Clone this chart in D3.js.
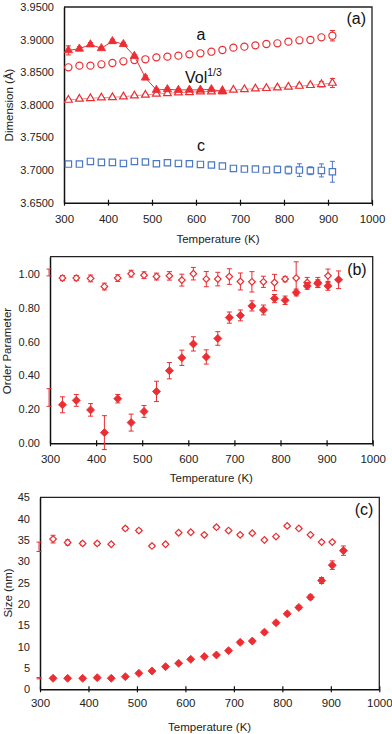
<!DOCTYPE html>
<html>
<head>
<meta charset="utf-8">
<script src="https://cdn.jsdelivr.net/npm/d3@7"></script>
<style>
  body { margin: 0; background: #fff; }
  svg { display: block; font-family: "Liberation Sans", Arial, sans-serif; }
</style>
</head>
<body>
<svg id="chart" width="392" height="734"></svg>
<script>
const xTicks = [300, 400, 500, 600, 700, 800, 900, 1000]

// (a) lattice dimensions
const tempA = [310, 335, 360, 385, 410, 435, 460, 485, 510, 535, 560, 585, 610, 635, 660, 685, 710, 735, 760, 785, 810, 835, 860, 885, 910]
const latticeA = [3.8575, 3.8601, 3.8601, 3.8621, 3.8642, 3.8667, 3.8687, 3.8698, 3.8728, 3.8739, 3.8754, 3.8774, 3.8790, 3.8815, 3.8841, 3.8877, 3.8892, 3.8912, 3.8933, 3.8943, 3.8969, 3.8989, 3.8994, 3.9035, 3.9060]
const latticeAErr = [0.0015, 0.0015, 0.0015, 0.0015, 0.0015, 0.0015, 0.0015, 0.0015, 0.0015, 0.0015, 0.0015, 0.0015, 0.0015, 0.0015, 0.0015, 0.0015, 0.0015, 0.0015, 0.0015, 0.0015, 0.0015, 0.0015, 0.002, 0.003, 0.008]
const volCubeRoot = [3.8074, 3.8090, 3.8100, 3.8110, 3.8115, 3.8126, 3.8141, 3.8152, 3.8167, 3.8177, 3.8187, 3.8192, 3.8203, 3.8203, 3.8218, 3.8228, 3.8238, 3.8248, 3.8254, 3.8264, 3.8274, 3.8289, 3.8300, 3.8315, 3.8335]
const volErr = [0.0015, 0.0015, 0.0015, 0.0015, 0.0015, 0.0015, 0.0015, 0.0015, 0.0015, 0.0015, 0.0015, 0.0015, 0.0015, 0.0015, 0.0015, 0.0015, 0.0015, 0.0015, 0.0015, 0.002, 0.002, 0.003, 0.003, 0.004, 0.007]
const tetragonalA = [3.8835, 3.8860, 3.8925, 3.8867, 3.8975, 3.8930, 3.8749, 3.8416, 3.8228, 3.8238, 3.8228, 3.8230, 3.8230, 3.8238, 3.8203]
const tetragonalAErr = [0.007, 0.003, 0.003, 0.002, 0.003, 0.003, 0.002, 0.003, 0.002, 0.002, 0.002, 0.002, 0.002, 0.002, 0.002]
const latticeC = [3.7092, 3.7092, 3.7133, 3.7118, 3.7118, 3.7102, 3.7133, 3.7123, 3.7097, 3.7112, 3.7102, 3.7097, 3.7087, 3.7077, 3.7061, 3.7026, 3.7015, 3.7015, 3.7000, 3.7010, 3.7000, 3.7000, 3.6990, 3.6995, 3.6974]
const latticeCErr = [0.0015, 0.0015, 0.0015, 0.0015, 0.0015, 0.0015, 0.0015, 0.0015, 0.0015, 0.0015, 0.0015, 0.0015, 0.0015, 0.0015, 0.002, 0.004, 0.003, 0.002, 0.003, 0.005, 0.006, 0.0097, 0.006, 0.010, 0.016]
const yTicksA = [3.65, 3.70, 3.75, 3.80, 3.85, 3.90, 3.95]

// (b) order parameter and (c) size share temperatures
const tempB = [298, 327, 357, 388, 418, 447, 476, 504, 531, 559, 586, 611, 639, 664, 689, 713, 738, 763, 787, 810, 834, 858, 881, 903, 926]
const orderFilled = [0.27, 0.227, 0.253, 0.197, 0.063, 0.263, 0.122, 0.188, 0.306, 0.428, 0.504, 0.586, 0.509, 0.618, 0.741, 0.754, 0.810, 0.786, 0.853, 0.843, 0.889, 0.928, 0.942, 0.928, 0.964]
const orderFilledErr = [0.052, 0.047, 0.035, 0.037, 0.10, 0.025, 0.05, 0.035, 0.06, 0.048, 0.045, 0.042, 0.042, 0.04, 0.033, 0.032, 0.03, 0.029, 0.024, 0.025, 0.02, 0.02, 0.022, 0.026, 0.052]
const orderOpen = [1.007, 0.974, 0.974, 0.972, 0.924, 0.974, 1.0, 0.991, 0.983, 0.987, 0.962, 1.0, 0.968, 0.968, 0.983, 0.954, 0.952, 0.952, 0.948, 0.968, 0.974, 0.948, 0.948, 0.987]
const orderOpenErr = [0.02, 0.015, 0.015, 0.02, 0.02, 0.02, 0.02, 0.02, 0.02, 0.025, 0.035, 0.037, 0.045, 0.04, 0.046, 0.05, 0.06, 0.033, 0.048, 0.016, 0.096, 0.03, 0.03, 0.04]
const yTicksB = [0, 0.2, 0.4, 0.6, 0.8, 1.0]

const sizeFilled = [2.6, 2.58, 2.58, 2.58, 2.73, 2.58, 2.97, 3.75, 4.3, 5.31, 6.1, 7.03, 7.66, 8.05, 9.06, 11.0, 11.3, 13.4, 15.6, 17.7, 19.2, 21.6, 25.5, 29.1, 32.5]
const sizeFilledErr = [0.15, 0.3, 0.3, 0.3, 0.3, 0.3, 0.3, 0.3, 0.3, 0.3, 0.3, 0.3, 0.3, 0.3, 0.3, 0.4, 0.4, 0.4, 0.4, 0.4, 0.4, 0.5, 0.7, 1.0, 1.1]
const sizeOpen = [33.4, 35.2, 34.4, 34.2, 34.2, 34.0, 37.7, 37.2, 33.6, 34.0, 36.7, 36.8, 36.2, 38.0, 37.2, 36.2, 36.6, 35.0, 35.8, 38.3, 37.7, 36.2, 34.5, 34.5]
const sizeOpenErr = [1.1, 0.9, 0.6, 0.4, 0.4, 0.3, 0.4, 0.4, 0.3, 0.3, 0.3, 0.3, 0.3, 0.4, 0.3, 0.3, 0.3, 0.3, 0.3, 0.3, 0.3, 0.3, 0.3, 0.3]
const yTicksC = [0, 5, 10, 15, 20, 25, 30, 35, 40, 45]

const red = '#ec2d32'
const blue = '#4a78c2'
const svg = d3.select('#chart')

const toPoints = (temps, vals, errs) => vals.map((v, i) => ({ t: temps[i], v, e: errs[i] }))

function makePanel (p) {
  const x = d3.scaleLinear().domain([300, 1000]).range([p.left, p.right])
  const y = d3.scaleLinear().domain(p.yDomain).range([p.bottom, p.top])
  const g = svg.append('g')

  g.append('path')
    .attr('d', `M${p.left},${p.top}H${p.right}V${p.bottom}`)
    .attr('fill', 'none')
    .attr('stroke', '#222')
    .attr('stroke-width', 1.3)

  const xAxis = g.append('g')
    .attr('transform', `translate(0,${p.bottom})`)
    .call(d3.axisBottom(x).tickValues(xTicks).tickSize(3).tickSizeOuter(0).tickPadding(p.xPad).tickFormat(d3.format('d')))
  xAxis.selectAll('.tick line').attr('y1', -3).attr('y2', 3)
  xAxis.selectAll('text').attr('font-size', 11.5).attr('fill', '#222')

  const yAxis = g.append('g')
    .attr('transform', `translate(${p.left},0)`)
    .call(d3.axisLeft(y).tickValues(p.yTicks).tickSize(4).tickSizeOuter(0).tickPadding(6).tickFormat(d3.format(p.yFormat)))
  yAxis.selectAll('.tick line').attr('x2', 1)
  yAxis.selectAll('text').attr('font-size', 11).attr('fill', '#222')

  g.selectAll('.domain').attr('stroke', '#111').attr('stroke-width', 1.5)
  g.selectAll('.tick line').attr('stroke', '#111').attr('stroke-width', 1.2)
  g.selectAll('.tick text').attr('font-family', '"Liberation Sans", Arial, sans-serif')

  g.append('text')
    .attr('x', (p.left + p.right) / 2)
    .attr('y', p.xTitleY)
    .attr('text-anchor', 'middle')
    .attr('font-size', 11.5)
    .attr('fill', '#222')
    .text('Temperature (K)')

  g.append('text')
    .attr('transform', `translate(${p.yTitleX},${p.yTitleY}) rotate(-90)`)
    .attr('text-anchor', 'middle')
    .attr('dominant-baseline', 'central')
    .attr('font-size', 11.5)
    .attr('fill', '#222')
    .text(p.yTitle)

  g.append('text')
    .attr('x', p.right - 6)
    .attr('y', p.tagY)
    .attr('text-anchor', 'end')
    .attr('font-size', 16)
    .attr('fill', '#111')
    .text(p.tag)

  return { g, x, y }
}

function drawSeries ({ g, x, y }, pts, o) {
  const layer = g.append('g')
  if (o.line) {
    layer.append('path')
      .datum(pts)
      .attr('d', d3.line().x(d => x(d.t)).y(d => y(d.v)))
      .attr('fill', 'none')
      .attr('stroke', o.color)
      .attr('stroke-width', o.lineWidth || 1)
      .attr('opacity', o.lineOpacity || 1)
  }
  const bars = layer.append('g')
    .attr('stroke', o.color)
    .attr('stroke-width', 1)
    .selectAll('g')
    .data(pts)
    .join('g')
  bars.append('line')
    .attr('x1', d => x(d.t)).attr('x2', d => x(d.t))
    .attr('y1', d => y(d.v - d.e)).attr('y2', d => y(d.v + d.e))
  bars.append('line')
    .attr('x1', d => x(d.t) - 2.5).attr('x2', d => x(d.t) + 2.5)
    .attr('y1', d => y(d.v - d.e)).attr('y2', d => y(d.v - d.e))
  bars.append('line')
    .attr('x1', d => x(d.t) - 2.5).attr('x2', d => x(d.t) + 2.5)
    .attr('y1', d => y(d.v + d.e)).attr('y2', d => y(d.v + d.e))

  const sym = d3.symbol().type(o.type).size(o.size)
  layer.selectAll('path.mark')
    .data(pts.filter(d => d.t >= 300))
    .join('path')
    .attr('class', 'mark')
    .attr('d', sym)
    .attr('transform', d => `translate(${x(d.t)},${y(d.v)})${o.rotate ? ' rotate(45)' : ''}`)
    .attr('fill', o.filled ? o.color : '#fff')
    .attr('stroke', o.color)
    .attr('stroke-width', o.filled ? 0.8 : 1.2)
}

// panel (a)
const pa = makePanel({
  left: 64, right: 372, top: 7, bottom: 202.7,
  yDomain: [3.65, 3.95], yTicks: yTicksA, yFormat: '.4f',
  yTitle: 'Dimension (Å)', yTitleX: 9, yTitleY: 105,
  xPad: 9, xTitleY: 242.5, tag: '(a)', tagY: 24
})
drawSeries(pa, toPoints(tempA, volCubeRoot, volErr), { type: d3.symbolTriangle, size: 26, color: red, line: true, lineWidth: 0.8, lineOpacity: 0.7 })
drawSeries(pa, toPoints(tempA, latticeA, latticeAErr), { type: d3.symbolCircle, size: 40, color: red })
drawSeries(pa, toPoints(tempA, tetragonalA, tetragonalAErr), { type: d3.symbolTriangle, size: 30, color: red, filled: true, line: true })
drawSeries(pa, toPoints(tempA, latticeC, latticeCErr), { type: d3.symbolSquare, size: 40, color: blue })

pa.g.append('text').attr('x', 201).attr('y', 40).attr('text-anchor', 'middle').attr('font-size', 16).attr('fill', '#111').text('a')
const vol = pa.g.append('text').attr('x', 185).attr('y', 82.5).attr('font-size', 16).attr('fill', '#111')
vol.append('tspan').text('Vol')
vol.append('tspan').attr('dy', -7).attr('font-size', 10.5).text('1/3')
pa.g.append('text').attr('x', 201).attr('y', 150.5).attr('text-anchor', 'middle').attr('font-size', 16).attr('fill', '#111').text('c')

// panel (b)
const pb = makePanel({
  left: 50, right: 372.7, top: 256.7, bottom: 443.3,
  yDomain: [0, 1.1], yTicks: yTicksB, yFormat: '.2f',
  yTitle: 'Order Parameter', yTitleX: 7, yTitleY: 351,
  xPad: 9, xTitleY: 481.5, tag: '(b)', tagY: 275
})
drawSeries(pb, toPoints(tempB, orderOpen, orderOpenErr), { type: d3.symbolSquare, size: 22, rotate: true, color: red })
drawSeries(pb, toPoints(tempB, orderFilled, orderFilledErr), { type: d3.symbolSquare, size: 32, rotate: true, color: red, filled: true })

// panel (c)
const pc = makePanel({
  left: 40, right: 379.3, top: 497.3, bottom: 689.3,
  yDomain: [0, 45], yTicks: yTicksC, yFormat: 'd',
  yTitle: 'Size (nm)', yTitleX: 8, yTitleY: 593,
  xPad: 7, xTitleY: 731, tag: '(c)', tagY: 515
})
drawSeries(pc, toPoints(tempB, sizeOpen, sizeOpenErr), { type: d3.symbolSquare, size: 22, rotate: true, color: red })
drawSeries(pc, toPoints(tempB, sizeFilled, sizeFilledErr), { type: d3.symbolSquare, size: 32, rotate: true, color: red, filled: true })
</script>
</body>
</html>
